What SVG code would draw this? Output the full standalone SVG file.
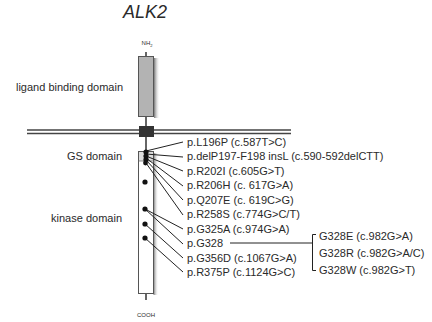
<svg xmlns="http://www.w3.org/2000/svg" width="432" height="322" viewBox="0 0 432 322">
<style>
text{font-family:"Liberation Sans",Arial,sans-serif;fill:#2a2a2a}
.lbl{font-size:11px}
.dom{font-size:11px;text-anchor:end}
.small{font-size:6px;text-anchor:middle}
.ln{stroke:#222;stroke-width:1;fill:none}
.dot{fill:#111}
</style>
<defs>
<linearGradient id="sh" x1="0" x2="1" y1="0" y2="0">
<stop offset="0" stop-color="#777"/>
<stop offset="1" stop-color="#fff" stop-opacity="0"/>
</linearGradient>
</defs>
<rect width="432" height="322" fill="#fff"/>
<text x="145" y="18" font-size="18" font-style="italic" text-anchor="middle">ALK2</text>
<g id="protein">
<text class="small" x="147" y="45">NH<tspan font-size="4" dy="1.5">2</tspan></text>
<line x1="146" y1="52" x2="146" y2="56" stroke="#333" stroke-width="1.5"/>
<rect x="154" y="58" width="6" height="60" fill="url(#sh)"/>
<rect x="138.5" y="56.5" width="15" height="60" fill="#b3b3b3" stroke="#555" stroke-width="1"/>
<line x1="146" y1="117" x2="146" y2="151" stroke="#333" stroke-width="1.5"/>
<line x1="27" y1="130" x2="291" y2="130" stroke="#444" stroke-width="1.6"/>
<line x1="27" y1="133.5" x2="291" y2="133.5" stroke="#444" stroke-width="1.6"/>
<rect x="139" y="126" width="15" height="11" fill="#333"/>
<rect x="153.5" y="153" width="5" height="142" fill="url(#sh)"/>
<rect x="138.5" y="151.5" width="15" height="142" fill="#fff" stroke="#555" stroke-width="1"/>
<rect x="139" y="152" width="14" height="9" fill="#ddd"/>
<line x1="138.5" y1="161" x2="153.5" y2="161" stroke="#777" stroke-width="0.8"/>
<line x1="146" y1="294" x2="146" y2="300" stroke="#333" stroke-width="1.5"/>
<text class="small" x="146" y="317">COOH</text>
</g>
<g id="domains">
<text class="dom" x="123" y="91">ligand binding domain</text>
<text class="dom" x="122" y="160">GS domain</text>
<text class="dom" x="122" y="222">kinase domain</text>
</g>
<g id="connectors">
<line class="ln" x1="146" y1="151" x2="183" y2="142"/>
<line class="ln" x1="146" y1="154" x2="183" y2="157"/>
<line class="ln" x1="146" y1="156" x2="183" y2="171"/>
<line class="ln" x1="146" y1="158" x2="183" y2="186"/>
<line class="ln" x1="146" y1="160" x2="183" y2="200"/>
<line class="ln" x1="146" y1="163" x2="183" y2="215"/>
<line class="ln" x1="145" y1="209" x2="183" y2="229"/>
<line class="ln" x1="145" y1="209" x2="183" y2="244"/>
<line class="ln" x1="145" y1="224" x2="183" y2="258"/>
<line class="ln" x1="145" y1="238" x2="183" y2="272"/>
<line class="ln" x1="230" y1="243" x2="312" y2="243"/>
<path class="ln" d="M316,234.5 H312.5 V270.5 H316"/>
</g>
<g id="dots">
<circle class="dot" cx="146" cy="152" r="2.6"/>
<circle class="dot" cx="146" cy="156" r="2.6"/>
<circle class="dot" cx="146" cy="159.5" r="2.6"/>
<circle class="dot" cx="145.5" cy="163" r="2.4"/>
<circle class="dot" cx="145" cy="182" r="2.6"/>
<circle class="dot" cx="145" cy="209" r="2.6"/>
<circle class="dot" cx="145" cy="224" r="2.6"/>
<circle class="dot" cx="145" cy="238" r="2.6"/>
</g>
<g id="labels">
<text class="lbl" x="187" y="145.5">p.L196P (c.587T&gt;C)</text>
<text class="lbl" x="187" y="160">p.delP197-F198 insL (c.590-592delCTT)</text>
<text class="lbl" x="187" y="174.5">p.R202I (c.605G&gt;T)</text>
<text class="lbl" x="187" y="189">p.R206H (c. 617G&gt;A)</text>
<text class="lbl" x="187" y="203.5">p.Q207E (c. 619C&gt;G)</text>
<text class="lbl" x="187" y="218">p.R258S (c.774G&gt;C/T)</text>
<text class="lbl" x="187" y="232.5">p.G325A (c.974G&gt;A)</text>
<text class="lbl" x="187" y="247">p.G328</text>
<text class="lbl" x="187" y="261.5">p.G356D (c.1067G&gt;A)</text>
<text class="lbl" x="187" y="276">p.R375P (c.1124G&gt;C)</text>
<text class="lbl" x="319" y="240">G328E (c.982G&gt;A)</text>
<text class="lbl" x="319" y="257">G328R (c.982G&gt;A/C)</text>
<text class="lbl" x="319" y="274">G328W (c.982G&gt;T)</text>
</g>
</svg>
